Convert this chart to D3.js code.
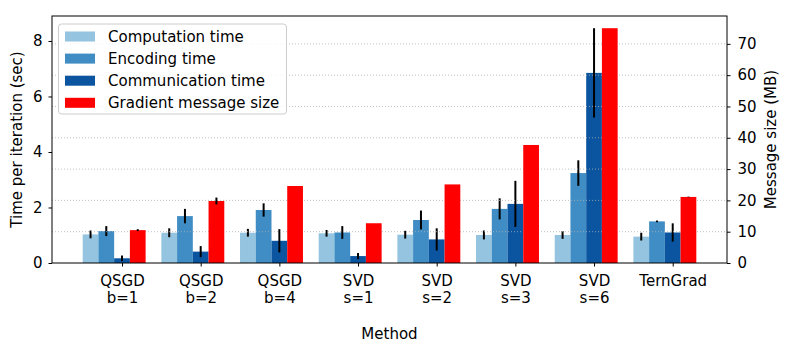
<!DOCTYPE html>
<html>
<head>
<meta charset="utf-8">
<script src="https://cdn.jsdelivr.net/npm/d3@7"></script>
<style>
  body { margin: 0; background: #fff; }
  svg text { font-family: "DejaVu Sans", sans-serif; fill: #000; }
</style>
</head>
<body>
<div id="chart"></div>
<script>
// methods on the x axis (two text lines each)
var methods = [
    ["QSGD", "b=1"], ["QSGD", "b=2"], ["QSGD", "b=4"],
    ["SVD", "s=1"], ["SVD", "s=2"], ["SVD", "s=3"], ["SVD", "s=6"],
    ["TernGrad"]
];

// times in seconds (left axis)
var compTime = [1.03, 1.09, 1.09, 1.07, 1.02, 1.01, 1.01, 0.95];
var compErr  = [0.14, 0.16, 0.14, 0.12, 0.14, 0.16, 0.14, 0.14];
var encTime  = [1.15, 1.69, 1.91, 1.10, 1.55, 1.95, 3.24, 1.50];
var encErr   = [0.18, 0.26, 0.24, 0.23, 0.34, 0.38, 0.46, 0.03];
var commTime = [0.17, 0.41, 0.80, 0.25, 0.85, 2.13, 6.85, 1.10];
var commErr  = [0.10, 0.20, 0.42, 0.11, 0.40, 0.83, 1.61, 0.33];

// message size in MB (right axis)
var msgSize = [10.5, 19.8, 24.6, 12.7, 25.1, 37.7, 75.0, 21.1];
var msgErr  = [0.3, 1.1, 0, 0, 0, 0, 0, 0.1];

var leftTicks = [0, 2, 4, 6, 8];
var rightTicks = [0, 10, 20, 30, 40, 50, 60, 70];

var legendLabels = ["Computation time", "Encoding time", "Communication time", "Gradient message size"];
var colors = ["#94c4df", "#3f8dc4", "#0b55a0", "#ff0000"];

var W = 789, H = 354;
// plot area (note: "top" is a reserved window global, so use m*)
var mLeft = 52, mRight = 727, mTop = 16, mBottom = 263;
var barW = 0.2;

var svg = d3.select('#chart').append('svg')
    .attr('width', W).attr('height', H);

var x = d3.scaleLinear().domain([-0.89, 7.69]).range([mLeft, mRight]);
var yL = d3.scaleLinear().domain([0, 8.9]).range([mBottom, mTop]);
var yR = d3.scaleLinear().domain([0, 78.9]).range([mBottom, mTop]);

// time series drawn on the left axis
var timeSeries = [
    {vals: compTime, err: compErr, off: -2},
    {vals: encTime, err: encErr, off: -1},
    {vals: commTime, err: commErr, off: 0}
];

var plot = svg.append('g');

timeSeries.forEach(function(s, k) {
    var g = plot.append('g');
    g.selectAll('rect').data(s.vals).enter().append('rect')
        .attr('x', function(d, i) { return x(i + s.off * barW - barW / 2); })
        .attr('width', x(barW) - x(0))
        .attr('y', function(d) { return yL(d); })
        .attr('height', function(d) { return yL(0) - yL(d); })
        .attr('fill', colors[k]);
    g.selectAll('line').data(s.vals).enter().append('line')
        .attr('x1', function(d, i) { return x(i + s.off * barW); })
        .attr('x2', function(d, i) { return x(i + s.off * barW); })
        .attr('y1', function(d, i) { return yL(d - s.err[i]); })
        .attr('y2', function(d, i) { return yL(d + s.err[i]); })
        .attr('stroke', '#000').attr('stroke-width', 2);
});

// grid of the right (twin) axis sits above the blue bars
plot.append('g').selectAll('line').data(rightTicks.slice(1)).enter().append('line')
    .attr('x1', mLeft).attr('x2', mRight)
    .attr('y1', function(d) { return yR(d); })
    .attr('y2', function(d) { return yR(d); })
    .attr('stroke', '#b0b0b0').attr('stroke-width', 0.8)
    .attr('stroke-dasharray', '1,2');

// message size bars on the right axis
var gm = plot.append('g');
gm.selectAll('rect').data(msgSize).enter().append('rect')
    .attr('x', function(d, i) { return x(i + barW - barW / 2); })
    .attr('width', x(barW) - x(0))
    .attr('y', function(d) { return yR(d); })
    .attr('height', function(d) { return yR(0) - yR(d); })
    .attr('fill', colors[3]);
gm.selectAll('line').data(msgSize).enter().append('line')
    .attr('x1', function(d, i) { return x(i + barW); })
    .attr('x2', function(d, i) { return x(i + barW); })
    .attr('y1', function(d, i) { return yR(d - msgErr[i]); })
    .attr('y2', function(d, i) { return yR(d + msgErr[i]); })
    .attr('stroke', '#000').attr('stroke-width', 2);

// frame
svg.append('rect')
    .attr('x', mLeft).attr('y', mTop)
    .attr('width', mRight - mLeft).attr('height', mBottom - mTop)
    .attr('fill', 'none').attr('stroke', '#000').attr('stroke-width', 1);

// axes
var fs = '15px';
var axL = svg.append('g').attr('transform', 'translate(' + mLeft + ',0)')
    .call(d3.axisLeft(yL).tickValues(leftTicks).tickSize(3.5).tickPadding(6));
var axR = svg.append('g').attr('transform', 'translate(' + mRight + ',0)')
    .call(d3.axisRight(yR).tickValues(rightTicks).tickSize(3.5).tickPadding(7));
var axB = svg.append('g').attr('transform', 'translate(0,' + mBottom + ')')
    .call(d3.axisBottom(x).tickValues(d3.range(methods.length)).tickSize(3.5).tickFormat(''));

[axL, axR, axB].forEach(function(a) {
    a.select('.domain').remove();
    a.selectAll('.tick line').attr('stroke', '#000');
    a.selectAll('text').attr('font-size', fs).attr('font-family', '"DejaVu Sans", sans-serif');
});

// two-line category labels
axB.selectAll('.tick').each(function(d) {
    var t = d3.select(this).append('text')
        .attr('text-anchor', 'middle')
        .attr('font-size', fs)
        .attr('fill', '#000');
    methods[d].forEach(function(line, j) {
        t.append('tspan').attr('x', 0).attr('y', 23 + j * 17).text(line);
    });
});

svg.append('text')
    .attr('x', (mLeft + mRight) / 2).attr('y', 339)
    .attr('text-anchor', 'middle').attr('font-size', fs)
    .text('Method');

svg.append('text')
    .attr('transform', 'translate(21.5,' + (mTop + mBottom) / 2 + ') rotate(-90)')
    .attr('text-anchor', 'middle').attr('font-size', fs)
    .text('Time per iteration (sec)');

svg.append('text')
    .attr('transform', 'translate(776,' + (mTop + mBottom) / 2 + ') rotate(-90)')
    .attr('text-anchor', 'middle').attr('font-size', fs)
    .text('Message size (MB)');

// legend
var lg = svg.append('g');
lg.append('rect')
    .attr('x', 58.5).attr('y', 24).attr('width', 228).attr('height', 90)
    .attr('rx', 3)
    .attr('fill', '#fff').attr('fill-opacity', 0.8)
    .attr('stroke', '#ccc').attr('stroke-width', 1);
legendLabels.forEach(function(name, k) {
    var cy = 36.5 + k * 22.1;
    lg.append('rect')
        .attr('x', 65).attr('y', cy - 5).attr('width', 30).attr('height', 10)
        .attr('fill', colors[k]);
    lg.append('text')
        .attr('x', 108).attr('y', cy + 5)
        .attr('font-size', fs)
        .text(name);
});
</script>
</body>
</html>
